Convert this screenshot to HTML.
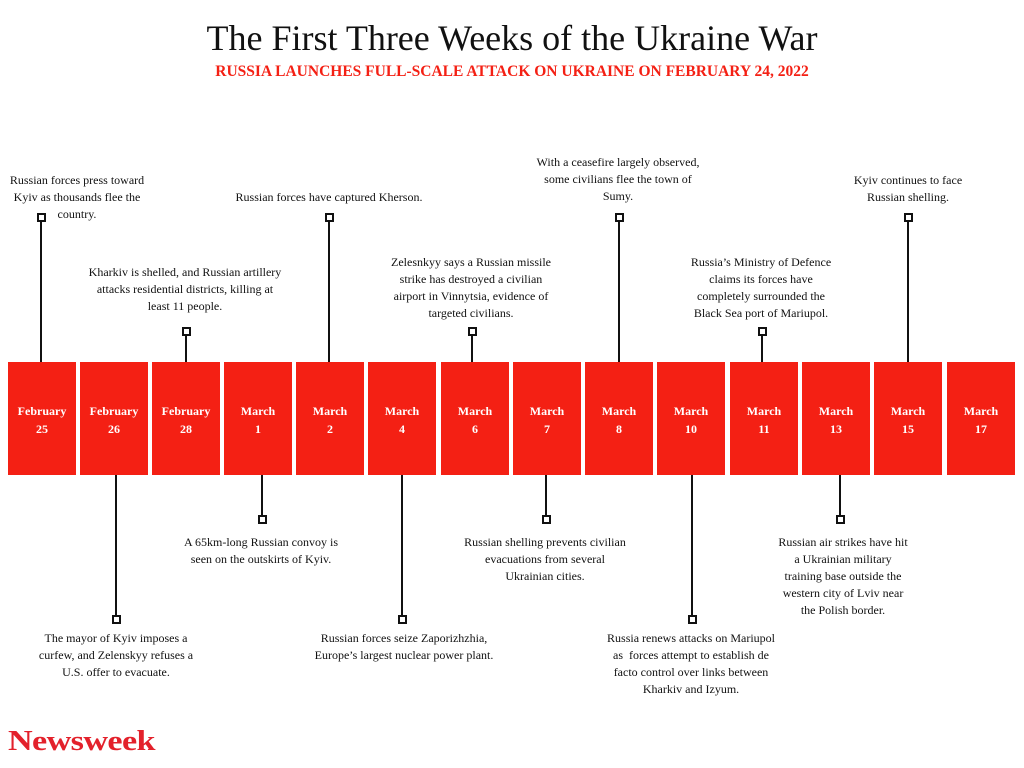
<!DOCTYPE html>
<html><head><meta charset="utf-8"><style>
body{margin:0;width:1024px;height:768px;background:#fff;position:relative;overflow:hidden;font-family:"Liberation Serif",serif;color:#111}
.t{position:absolute;text-align:center;font-size:12px;line-height:17px;transform:translateX(-50%);white-space:nowrap}
.b{position:absolute;top:362px;width:68px;height:113px;background:#f42014;color:#fff;font-weight:bold;font-size:12px;line-height:18px;text-align:center;box-sizing:border-box;padding-top:40px}
.l{position:absolute;width:2px;background:#111}
.s{position:absolute;width:5px;height:5px;border:2px solid #111;background:#fff}
</style></head><body>
<div style="position:absolute;top:17px;width:1024px;text-align:center;font-size:36px">The First Three Weeks of the Ukraine War</div>
<div style="position:absolute;top:63px;width:1024px;text-align:center;font-size:15.5px;font-weight:bold;color:#f42014">RUSSIA LAUNCHES FULL-SCALE ATTACK ON UKRAINE ON FEBRUARY 24, 2022</div>

<div class="b" style="left:8px">February<br>25</div>
<div class="b" style="left:80px">February<br>26</div>
<div class="b" style="left:152px">February<br>28</div>
<div class="b" style="left:224px">March<br>1</div>
<div class="b" style="left:296px">March<br>2</div>
<div class="b" style="left:368px">March<br>4</div>
<div class="b" style="left:441px">March<br>6</div>
<div class="b" style="left:513px">March<br>7</div>
<div class="b" style="left:585px">March<br>8</div>
<div class="b" style="left:657px">March<br>10</div>
<div class="b" style="left:730px">March<br>11</div>
<div class="b" style="left:802px">March<br>13</div>
<div class="b" style="left:874px">March<br>15</div>
<div class="b" style="left:947px">March<br>17</div>

<div class="l" style="left:40px;top:218px;height:144px"></div><div class="s" style="left:37px;top:213px"></div>
<div class="l" style="left:185px;top:332px;height:30px"></div><div class="s" style="left:182px;top:327px"></div>
<div class="l" style="left:328px;top:218px;height:144px"></div><div class="s" style="left:325px;top:213px"></div>
<div class="l" style="left:471px;top:332px;height:30px"></div><div class="s" style="left:468px;top:327px"></div>
<div class="l" style="left:618px;top:218px;height:144px"></div><div class="s" style="left:615px;top:213px"></div>
<div class="l" style="left:761px;top:332px;height:30px"></div><div class="s" style="left:758px;top:327px"></div>
<div class="l" style="left:907px;top:218px;height:144px"></div><div class="s" style="left:904px;top:213px"></div>
<div class="l" style="left:115px;top:475px;height:144px"></div><div class="s" style="left:112px;top:615px"></div>
<div class="l" style="left:261px;top:475px;height:44px"></div><div class="s" style="left:258px;top:515px"></div>
<div class="l" style="left:401px;top:475px;height:144px"></div><div class="s" style="left:398px;top:615px"></div>
<div class="l" style="left:545px;top:475px;height:44px"></div><div class="s" style="left:542px;top:515px"></div>
<div class="l" style="left:691px;top:475px;height:144px"></div><div class="s" style="left:688px;top:615px"></div>
<div class="l" style="left:839px;top:475px;height:44px"></div><div class="s" style="left:836px;top:515px"></div>

<div class="t" style="left:77px;top:172px">Russian forces press toward<br>Kyiv as thousands flee the<br>country.</div>
<div class="t" style="left:329px;top:189px">Russian forces have captured Kherson.</div>
<div class="t" style="left:185px;top:264px">Kharkiv is shelled, and Russian artillery<br>attacks residential districts, killing at<br>least 11 people.</div>
<div class="t" style="left:471px;top:254px">Zelesnkyy says a Russian missile<br>strike has destroyed a civilian<br>airport in Vinnytsia, evidence of<br>targeted civilians.</div>
<div class="t" style="left:618px;top:154px">With a ceasefire largely observed,<br>some civilians flee the town of<br>Sumy.</div>
<div class="t" style="left:761px;top:254px">Russia’s Ministry of Defence<br>claims its forces have<br>completely surrounded the<br>Black Sea port of Mariupol.</div>
<div class="t" style="left:908px;top:172px">Kyiv continues to face<br>Russian shelling.</div>

<div class="t" style="left:261px;top:534px">A 65km-long Russian convoy is<br>seen on the outskirts of Kyiv.</div>
<div class="t" style="left:545px;top:534px">Russian shelling prevents civilian<br>evacuations from several<br>Ukrainian cities.</div>
<div class="t" style="left:843px;top:534px">Russian air strikes have hit<br>a Ukrainian military<br>training base outside the<br>western city of Lviv near<br>the Polish border.</div>
<div class="t" style="left:116px;top:630px">The mayor of Kyiv imposes a<br>curfew, and Zelenskyy refuses a<br>U.S. offer to evacuate.</div>
<div class="t" style="left:404px;top:630px">Russian forces seize Zaporizhzhia,<br>Europe’s largest nuclear power plant.</div>
<div class="t" style="left:691px;top:630px">Russia renews attacks on Mariupol<br>as &nbsp;forces attempt to establish de<br>facto control over links between<br>Kharkiv and Izyum.</div>

<div style="position:absolute;left:8px;top:726px;font-size:28px;font-weight:bold;color:#e3212b;letter-spacing:-0.5px;transform:scaleX(1.22);transform-origin:left top">Newsweek</div>
</body></html>
